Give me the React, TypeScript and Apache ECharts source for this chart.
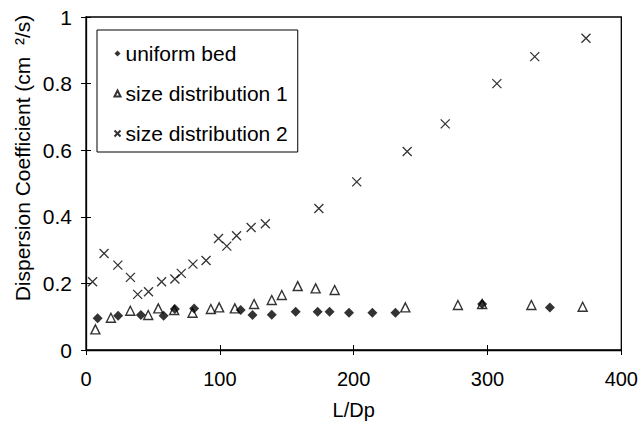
import React, { useEffect, useRef } from "react";
import * as echarts from "echarts";

const xTicks = [0, 100, 200, 300, 400];
const yTicks = [0, 0.2, 0.4, 0.6, 0.8, 1];

const uniformX = [8.7, 24, 41, 58, 66.4, 80.8, 115.6, 124.4, 138.8, 156.7, 173.1, 182, 196.5, 214, 231.2, 296, 346.6];
const uniformY = [0.095, 0.103, 0.105, 0.103, 0.123, 0.125, 0.12, 0.105, 0.106, 0.115, 0.115, 0.115, 0.112, 0.112, 0.112, 0.138, 0.128];

const dist1X = [7, 18.6, 33.1, 46.5, 54, 65.9, 79.6, 93.3, 99.5, 111.2, 125.6, 138.8, 146.3, 158.2, 171.6, 185.8, 238.6, 277.9, 296, 332.8, 371.1];
const dist1Y = [0.062, 0.097, 0.118, 0.105, 0.125, 0.12, 0.112, 0.123, 0.128, 0.125, 0.138, 0.15, 0.165, 0.192, 0.185, 0.18, 0.128, 0.135, 0.138, 0.135, 0.13];

const dist2X = [4.9, 13.5, 23.8, 33.2, 38.6, 46.7, 56.5, 66.4, 71.2, 79.9, 89.7, 99, 105.2, 112.5, 123.4, 134, 174, 202.3, 240, 268.4, 307, 335.3, 373.6];
const dist2Y = [0.205, 0.29, 0.255, 0.218, 0.167, 0.175, 0.205, 0.213, 0.23, 0.258, 0.269, 0.335, 0.312, 0.343, 0.368, 0.379, 0.425, 0.505, 0.596, 0.679, 0.8, 0.881, 0.936];

const seriesNames = ["uniform bed", "size distribution 1", "size distribution 2"];
const xName = "L/Dp";
const yName = "Dispersion Coefficient (cm  ²/s)";

const pairs = (xs: number[], ys: number[]) => xs.map((x, i) => [x, ys[i]]);

const FONT = "Liberation Sans, Arial, sans-serif";

export default function App() {
  const ref = useRef<HTMLDivElement>(null);
  useEffect(() => {
    if (!ref.current) return;
    const chart = echarts.init(ref.current, undefined, { renderer: "svg" });
    const axisCommon = {
      axisLine: { show: true, onZero: false, lineStyle: { color: "#000", width: 1.3 } },
      splitLine: { show: false },
    };
    chart.setOption({
      animation: false,
      backgroundColor: "#fff",
      textStyle: { fontFamily: FONT, color: "#000" },
      grid: {
        left: 86,
        right: 18,
        top: 17,
        bottom: 78,
        show: true,
        borderColor: "#000",
        borderWidth: 1.3,
        backgroundColor: "transparent",
      },
      legend: {
        orient: "vertical",
        left: 97,
        top: 30,
        padding: [13, 10, 8, 15],
        itemGap: 19,
        itemWidth: 6,
        itemHeight: 6,
        itemTextGap: 10,
        borderColor: "#000",
        borderWidth: 1,
        data: seriesNames,
        textStyle: { fontFamily: FONT, fontSize: 21, color: "#000", lineHeight: 21 },
      },
      graphic: [
        {
          type: "text",
          x: 22,
          y: 158,
          rotation: Math.PI / 2,
          style: {
            text: yName,
            fontFamily: FONT,
            fontSize: 21,
            fill: "#000",
            align: "center",
            verticalAlign: "middle",
          },
        },
      ],
      xAxis: [
        {
          type: "value",
          min: 0,
          max: 400,
          interval: 100,
          ...axisCommon,
          axisTick: { show: true, length: 5, lineStyle: { color: "#000" } },
          axisLabel: { fontFamily: FONT, fontSize: 20, color: "#000", margin: 19 },
          name: xName,
          nameLocation: "middle",
          nameGap: 50,
          nameTextStyle: { fontFamily: FONT, fontSize: 20, color: "#000" },
        },
        {
          type: "value",
          min: 0,
          max: 400,
          interval: 100,
          position: "bottom",
          axisLine: { show: false },
          splitLine: { show: false },
          axisTick: { show: true, inside: true, length: 5, lineStyle: { color: "#000" } },
          axisLabel: { show: false },
        },
      ],
      yAxis: [
        {
          type: "value",
          min: 0,
          max: 1,
          interval: 0.2,
          ...axisCommon,
          axisTick: { show: true, length: 5, lineStyle: { color: "#000" } },
          axisLabel: {
            fontFamily: FONT,
            fontSize: 21,
            color: "#000",
            margin: 14,
            formatter: (v: number) => String(yTicks.find((t) => Math.abs(t - v) < 1e-9) ?? v),
          },
        },
        {
          type: "value",
          min: 0,
          max: 1,
          interval: 0.2,
          position: "left",
          axisLine: { show: false },
          splitLine: { show: false },
          axisTick: { show: true, inside: true, length: 5, lineStyle: { color: "#000" } },
          axisLabel: { show: false },
        },
      ],
      series: [
        {
          name: seriesNames[0],
          type: "scatter",
          symbol: "diamond",
          symbolSize: 10,
          itemStyle: { color: "#000" },
          data: pairs(uniformX, uniformY),
          z: 3,
        },
        {
          name: seriesNames[1],
          type: "scatter",
          symbol: "triangle",
          symbolSize: 9,
          itemStyle: { color: "#fff", borderColor: "#000", borderWidth: 1.4 },
          data: pairs(dist1X, dist1Y),
          z: 2,
        },
        {
          name: seriesNames[2],
          type: "scatter",
          symbol: "path://M0,0L10,10M10,0L0,10",
          symbolSize: 9,
          itemStyle: { color: "none", borderColor: "#000", borderWidth: 1.3 },
          data: pairs(dist2X, dist2Y),
          z: 2,
        },
      ],
    });
    return () => chart.dispose();
  }, []);
  void xTicks;
  return (
    <div
      ref={ref}
      style={{ position: "fixed", left: 0, top: 0, width: 641, height: 428, background: "#fff" }}
    />
  );
}
